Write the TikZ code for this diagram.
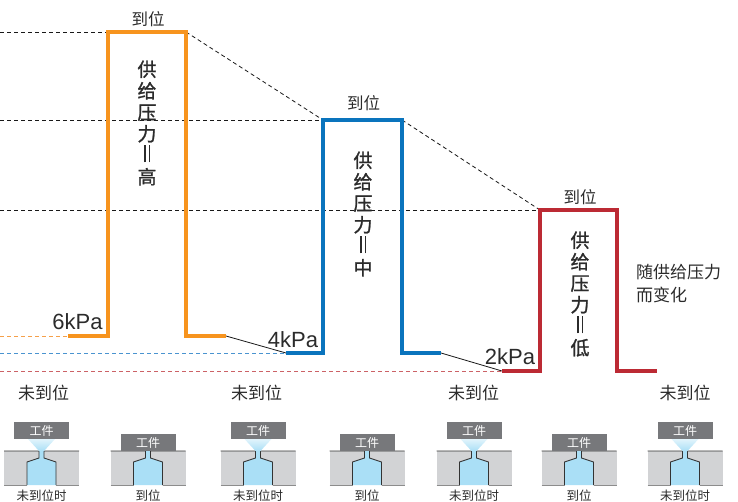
\documentclass[tikz,border=0pt]{standalone}
\usepackage{fontspec}
\setmainfont{Noto Sans CJK SC}
\newfontfamily\latinsans{Liberation Sans}
\newfontfamily\heavycjk[FakeBold=1.2]{Noto Sans CJK SC}
\usetikzlibrary{calc}

\definecolor{pOrange}{HTML}{F7941E}
\definecolor{pBlue}{HTML}{0A74BD}
\definecolor{pRed}{HTML}{BC2A34}
\definecolor{dOrange}{HTML}{F5A04A}
\definecolor{dBlue}{HTML}{4A94D0}
\definecolor{dRed}{HTML}{CC6266}
\definecolor{txt}{HTML}{2B2B2B}
\definecolor{plategray}{HTML}{D2D3D5}
\definecolor{fluid}{HTML}{AADFF6}
\definecolor{workgray}{HTML}{77787B}

% vertical "=" sign: two upright bars
\newcommand{\vequal}{\hbox{\rule{1.1pt}{17pt}\hspace{3pt}\rule{1.1pt}{17pt}}}

\tikzset{
  wave/.style={line width=3.5pt, line join=miter, line cap=butt},
  guide/.style={line width=0.8pt, dash pattern=on 4pt off 3pt, black!90},
  levelguide/.style={line width=0.8pt, dash pattern=on 4pt off 3pt},
  link/.style={line width=0.8pt, black!90},
  reach/.style={font=\fontsize{16.5}{18}\selectfont, text=txt, inner sep=0pt},
  vlabel/.style={font=\heavycjk\fontsize{19}{21.5}\selectfont, text=txt, align=center, inner sep=0pt},
  kpa/.style={font=\latinsans\fontsize{22}{24}\selectfont, text=txt, inner sep=0pt},
  state/.style={font=\fontsize{17}{19}\selectfont, text=txt, inner sep=0pt},
  caption/.style={font=\fontsize{12.5}{14}\selectfont, text=txt, inner sep=0pt},
  workpiece/.style={fill=workgray, text=white, minimum width=55pt, minimum height=17pt,
    inner sep=0pt, font=\fontsize{12}{13}\selectfont},
  wall/.style={line width=0.9pt, black!80, line join=miter},
  plate edge/.style={line width=0.5pt, black!45},
  plate/.pic={
    \fill[plategray] (-37.5,0) rectangle (37.5,34);
    \fill[fluid] (-2.5,0) -- (-2.5,7) -- (-14.5,11) -- (-14.5,34) -- (14.5,34)
      -- (14.5,11) -- (2.5,7) -- (2.5,0) -- cycle;
    \draw[wall] (-37.5,0) -- (-2.5,0) -- (-2.5,7) -- (-14.5,11) -- (-14.5,34);
    \draw[wall] (37.5,0) -- (2.5,0) -- (2.5,7) -- (14.5,11) -- (14.5,34);
    \draw[plate edge] (-37.5,34) -- (-14.5,34) (14.5,34) -- (37.5,34);
  },
  free nozzle/.pic={
    \pic {plate};
    \shade[top color=fluid!35, bottom color=fluid] (-13.5,-12) -- (13.5,-12) -- (2.5,0) -- (-2.5,0) -- cycle;
    \node[workpiece] (-box) at (0,-20.5) {工件};
  },
  seated nozzle/.pic={
    \pic {plate};
    \node[workpiece] (-box) at (0,-8.5) {工件};
  },
}

\begin{document}
\begin{tikzpicture}[x=1pt, y=-1pt]
\useasboundingbox (0,0) rectangle (738,502);

% corner points of the three pressure pulses
\coordinate (oA) at (68,336);  \coordinate (oB) at (108,336);
\coordinate (oC) at (108,32);  \coordinate (oD) at (186,32);
\coordinate (oE) at (186,336); \coordinate (oF) at (226,336);
\coordinate (bA) at (286,353); \coordinate (bB) at (323,353);
\coordinate (bC) at (323,120); \coordinate (bD) at (402,120);
\coordinate (bE) at (402,353); \coordinate (bF) at (441,353);
\coordinate (rA) at (502,371); \coordinate (rB) at (540,371);
\coordinate (rC) at (540,210); \coordinate (rD) at (617,210);
\coordinate (rE) at (617,371); \coordinate (rF) at (657,371);

% left-edge start points of the guide lines
\coordinate (gTop) at (0,32);
\coordinate (gMid) at (0,120);
\coordinate (gLow) at (0,210);
\coordinate (gO) at (0,336);
\coordinate (gB) at (0,353);
\coordinate (gR) at (0,371);

% reach-level guides
\draw[guide] (gTop) -- (oC);
\draw[guide] (gMid) -- (bC);
\draw[guide] (gLow) -- (rC);
\draw[guide] (oD) -- (bC);
\draw[guide] (bD) -- (rC);

% supply-level guides
\draw[levelguide, dOrange] (gO) -- (oA);
\draw[levelguide, dBlue] (gB) -- (bA);
\draw[levelguide, dRed] (gR) -- (rA);

% transitions between pulses
\draw[link] (oF) -- (bA);
\draw[link] (bF) -- (rA);

% pulses
\draw[wave, pOrange] (oA) -- (oB) -- (oC) -- (oD) -- (oE) -- (oF);
\draw[wave, pBlue] (bA) -- (bB) -- (bC) -- (bD) -- (bE) -- (bF);
\draw[wave, pRed] (rA) -- (rB) -- (rC) -- (rD) -- (rE) -- (rF);

% labels
\node[reach] (reachHi) at (148,19.5) {到位};
\node[reach] (reachMid) at (363.5,103.5) {到位};
\node[reach] (reachLo) at (580,197.5) {到位};

\node[vlabel] (textHi) at (147,123) {供\\给\\压\\力\\\vequal\\高};
\node[vlabel] (textMid) at (363,214) {供\\给\\压\\力\\\vequal\\中};
\node[vlabel] (textLo) at (580,294) {供\\给\\压\\力\\\vequal\\低};

\node[kpa] (kpaHi) at (77.5,321.5) {6kPa};
\node[kpa] (kpaMid) at (293,339.5) {4kPa};
\node[kpa] (kpaLo) at (510,356.5) {2kPa};

\node[state, anchor=west, align=left, font=\fontsize{17}{23}\selectfont] (note) at (636,284) {随供给压力\\而变化};

\node[state] (wait1) at (43.5,392.5) {未到位};
\node[state] (wait2) at (256.5,392.5) {未到位};
\node[state] (wait3) at (473.5,392.5) {未到位};
\node[state] (wait4) at (685,392.5) {未到位};

% nozzle sketches
\pic (n1) at (41.5,451) {free nozzle};
\pic (n2) at (148,451) {seated nozzle};
\pic (n3) at (258,451) {free nozzle};
\pic (n4) at (367,451) {seated nozzle};
\pic (n5) at (474,451) {free nozzle};
\pic (n6) at (579,451) {seated nozzle};
\pic (n7) at (685,451) {free nozzle};

\node[caption] (cap1) at (41.5,496) {未到位时};
\node[caption] (cap2) at (148,496) {到位};
\node[caption] (cap3) at (258,496) {未到位时};
\node[caption] (cap4) at (367,496) {到位};
\node[caption] (cap5) at (474,496) {未到位时};
\node[caption] (cap6) at (579,496) {到位};
\node[caption] (cap7) at (685,496) {未到位时};
\end{tikzpicture}
\end{document}
